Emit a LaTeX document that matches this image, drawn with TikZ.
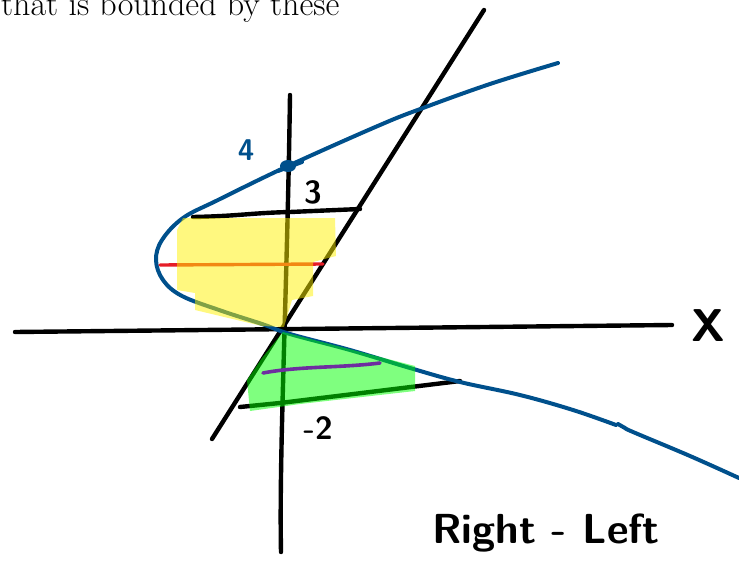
\documentclass[tikz,border=0pt]{standalone}
\usepackage{tikz}
\usetikzlibrary{positioning,calc}
\definecolor{curveblue}{RGB}{0,80,140}
\definecolor{stripred}{RGB}{230,30,40}
\definecolor{strippurple}{RGB}{110,45,160}

\begin{document}
\begin{tikzpicture}[x=1pt, y=-1pt, line cap=round, line join=round,
    every node/.style={inner sep=0pt},
    pen/.style={line width=4.4pt, black},
    curve/.style={line width=4pt, curveblue},
    hand/.style={font=\sffamily\bfseries\fontsize{32}{32}\selectfont}]
    \useasboundingbox (0,0) rectangle (739,565);
    \node[anchor=base west, font=\fontsize{34}{36}\selectfont] (caption) at (1,15) {that is bounded by these};

    % axes and the line
    \coordinate (O) at (285,328);
    \coordinate (xl) at (15,332);
    \coordinate (xr) at (672,325);
    \coordinate (yt) at (290,95);
    \coordinate (yb) at (281,552);
    \coordinate (lb) at (212,439);
    \coordinate (lt) at (484,10);
    \draw[pen] (xl) -- (xr);
    \draw[pen] (yt) .. controls (287,300) and (279,450) .. (yb);
    \draw[pen] (lb) -- (lt);
    \node[hand, font=\sffamily\bfseries\fontsize{46}{46}\selectfont] (xlabel) at (708,326) {X};

    % strip bounds
    \draw[pen] (193,217) .. controls (240,216) and (250,213) .. (290,212) -- (360,209);
    \draw[pen] (240,407) -- (280,403) -- (460,381);
    \node[hand] (three) at (313,192) {3};
    \node[hand] (mtwo) at (318,428) {-2};

    % the parabola
    \draw[curve] plot[smooth, tension=0.6] coordinates {
        (558,63) (490,84) (423,108) (380,125) (288,166) (218,200) (183,218)
        (162,240) (156,260) (163,280) (182,296) (222,311) (262,324) (290,334)
        (350,350) (410,368) (460,382) (520,395) (573,410) (616,425)};
    \draw[curve] plot[smooth, tension=0.6] coordinates {
        (618,424) (625,428) (633,432) (690,456) (739,478)};
    \fill[curveblue] (288,166) ellipse (8 and 6);
    \draw[curve] (278,171) -- (302,162);
    \node[hand, text=curveblue, font=\sffamily\bfseries\fontsize{30}{30}\selectfont] (four) at (246,150) {4};

    % the strips
    \draw[line width=3.4pt, stripred] (160,265) -- (323,264);
    \fill[yellow, opacity=0.5] (177,230) -- (183,218) -- (335,218) -- (336,256)
        -- (313,262) -- (313,296) -- (292,300) -- (284,327) -- (262,326)
        -- (195,310) -- (195,293) -- (177,290) -- cycle;
    \fill[green, opacity=0.5] (283,332) -- (415,366) -- (415,391) -- (300,404)
        -- (250,411) -- (247,380) -- (262,358) -- cycle;
    \draw[line width=3.6pt, strippurple] (263,373) .. controls (300,366) and (340,368) .. (380,363);

    \node[hand, font=\sffamily\bfseries\fontsize{42}{42}\selectfont] (rl) at (546,533) {Right - Left};
\end{tikzpicture}
\end{document}
